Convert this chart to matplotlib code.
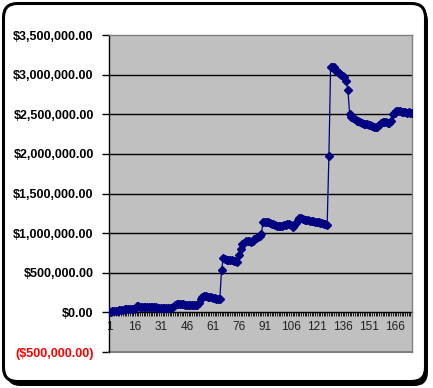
"""Running account balance by period, Excel-style line chart."""

import matplotlib

matplotlib.use("Agg")
import matplotlib.pyplot as plt
from matplotlib.patches import FancyBboxPatch
from matplotlib.ticker import FixedLocator, FuncFormatter
from matplotlib.transforms import IdentityTransform

# balance per period, in thousands of dollars
balance_k = (
    [5, 8, 12, 15, 18, 20, 25, 30]
    + [35, 38, 40, 42, 42, 45, 45, 48]
    + [80]
    + [75, 72, 70, 68, 68, 66, 65, 64, 64, 62, 62, 60, 60, 58, 58, 56, 55, 55, 54, 55]
    + [70, 90, 105, 110, 108, 105, 100]
    + [98, 95, 92, 90, 88, 87, 88, 92]
    + [120, 175, 195]
    + [205, 205, 200, 195, 190, 185, 180, 175, 172, 170]
    + [530]
    + [680, 670, 665, 660, 660, 655, 650, 645, 640]
    + [720, 795, 858]
    + [880, 895, 900, 895, 890, 900]
    + [930, 940, 955, 970, 990]
    + [1145, 1145, 1140, 1135, 1130, 1120, 1110, 1100, 1095, 1090, 1090]
    + [1095, 1100, 1105, 1110, 1120, 1100, 1080, 1100, 1130, 1160, 1185, 1185]
    + [1175, 1170, 1165, 1160, 1155, 1150, 1148, 1145, 1140, 1135, 1132, 1125, 1120, 1110, 1100]
    + [1970]
    + [3100, 3100, 3090]
    + [3050, 3030, 3015, 3000, 2985, 2965, 2920, 2800, 2500]
    + [2470, 2450, 2435, 2420, 2410, 2400, 2390, 2380, 2378, 2375, 2370, 2365,
       2355, 2345, 2340, 2345, 2365, 2385, 2400, 2405, 2400, 2395, 2395, 2410]
    + [2505, 2520, 2535, 2545, 2540, 2530, 2525, 2525, 2520, 2525, 2520, 2515]
)
balance = [v * 1000 for v in balance_k]
periods = list(range(1, len(balance) + 1))
period_labels = [str(p) for p in periods[::15]]
y_ticks = [-500000, 0, 500000, 1000000, 1500000, 2000000, 2500000, 3000000, 3500000]

W, H, DPI = 433, 388, 100
NAVY = "#000080"


def money(v, _pos=None):
    s = f"${abs(v):,.2f}"
    return f"({s})" if v < 0 else s


def px_box(ax_left, ax_top, ax_right, ax_bottom):
    return [ax_left / W, 1 - ax_bottom / H, (ax_right - ax_left) / W, (ax_bottom - ax_top) / H]


fig = plt.figure(figsize=(W / DPI, H / DPI), dpi=DPI)
fig.patch.set_facecolor("white")

# rounded chart frame with a drop shadow (pixel coords, origin bottom-left)
shadow = FancyBboxPatch((6.5, H - 386), 421.5, 379, boxstyle="round,pad=0,rounding_size=14",
                        transform=IdentityTransform(), facecolor="black", edgecolor="black",
                        lw=0, zorder=-3)
frame = FancyBboxPatch((3.5, H - 381.5), 422, 378, boxstyle="round,pad=0,rounding_size=14",
                       transform=IdentityTransform(), facecolor="white", edgecolor="black",
                       lw=2.2, zorder=-2)
fig.patches.extend([shadow, frame])

ax = fig.add_axes(px_box(109, 35, 412, 352))
ax.set_facecolor("#c0c0c0")

ax.plot(periods, balance, color=NAVY, lw=0.9, marker="D", ms=3.7, mec=NAVY, mfc=NAVY, zorder=3)

ax.set_xlim(1, len(balance))
ax.set_ylim(y_ticks[0], y_ticks[-1])

for v in y_ticks[2:-1]:
    ax.axhline(v, color="black", lw=1.0, zorder=1)

for side in ("top", "right"):
    ax.spines[side].set_color("#808080")
    ax.spines[side].set_linewidth(1.0)
ax.spines["left"].set_color("black")
ax.spines["left"].set_linewidth(1.0)
ax.spines["bottom"].set_position(("data", 0))
ax.spines["bottom"].set_color("black")
ax.spines["bottom"].set_linewidth(1.0)
ax.spines["bottom"].set_zorder(2)
# lower plot-area border sits at the axis minimum
ax.axhline(y_ticks[0], color="#808080", lw=1.5, zorder=2, clip_on=False)

ax.yaxis.set_major_locator(FixedLocator(y_ticks))
ax.yaxis.set_major_formatter(FuncFormatter(money))
ax.tick_params(axis="y", direction="out", length=5, width=1, pad=6, labelsize=9)
for lbl, v in zip(ax.get_yticklabels(), y_ticks):
    lbl.set_fontfamily("Liberation Sans")
    lbl.set_fontweight("bold")
    lbl.set_color("red" if v < 0 else "black")

ax.xaxis.set_major_locator(FixedLocator(periods[::15]))
ax.xaxis.set_minor_locator(FixedLocator(periods))
ax.set_xticklabels(period_labels)
ax.tick_params(axis="x", which="both", direction="out", length=3, width=0.6, pad=3, labelsize=8.5)
for lbl in ax.get_xticklabels():
    lbl.set_fontfamily("Liberation Sans")
    lbl.set_color("#202020")

fig.savefig("out.png", dpi=DPI, facecolor="white")
